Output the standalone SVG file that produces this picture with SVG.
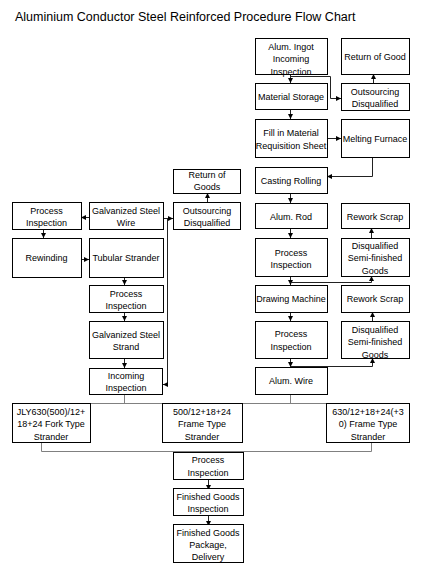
<svg xmlns="http://www.w3.org/2000/svg" width="442" height="571" viewBox="0 0 442 571">
<defs>
<style>
rect{fill:#fff;stroke:#000;stroke-width:1}
text{font-family:"Liberation Sans",Arial,sans-serif;font-size:9px;fill:#000;text-anchor:middle}
.title{font-size:12.5px;text-anchor:start}
.c{fill:none;stroke:#222;stroke-width:1}
.g{fill:none;stroke:#808080;stroke-width:1}
</style>
<marker id="ah" viewBox="0 0 6 6" refX="6" refY="3" markerWidth="5" markerHeight="5" markerUnits="userSpaceOnUse" orient="auto">
<path d="M0,0 L6,3 L0,6 z" fill="#000"/>
</marker>
</defs>
<rect x="0" y="0" width="442" height="571" style="fill:#fff;stroke:none"/>
<text class="title" x="15" y="21">Aluminium Conductor Steel Reinforced Procedure Flow Chart</text>

<g id="connectors">
<path class="c" d="M290.5,74 V83" marker-end="url(#ah)"/>
<path class="c" d="M290.5,76.5 H330.5 V98.5 H341" marker-end="url(#ah)"/>
<path class="c" d="M373.5,83 V74" marker-end="url(#ah)"/>
<path class="c" d="M290.5,109 V119" marker-end="url(#ah)"/>
<path class="c" d="M327,138.5 H341" marker-end="url(#ah)"/>
<path class="c" d="M372.5,157 V176.5 H327" marker-end="url(#ah)"/>
<path class="c" d="M290.5,193 V203" marker-end="url(#ah)"/>
<path class="c" d="M290.5,228 V238" marker-end="url(#ah)"/>
<path class="c" d="M371.5,238 V228" marker-end="url(#ah)"/>
<path class="c" d="M290.5,276 V285" marker-end="url(#ah)"/>
<path class="c" d="M290.5,282.5 H371.5 V276" marker-end="url(#ah)"/>
<path class="c" d="M290.5,312 V321" marker-end="url(#ah)"/>
<path class="c" d="M372.5,321 V312" marker-end="url(#ah)"/>
<path class="c" d="M290.5,358 V367" marker-end="url(#ah)"/>
<path class="c" d="M290.5,366.5 H372.5 V358" marker-end="url(#ah)"/>
<path class="c" d="M89,217.5 H81" marker-end="url(#ah)"/>
<path class="c" d="M43.5,229 V238" marker-end="url(#ah)"/>
<path class="c" d="M81,259.5 H89" marker-end="url(#ah)"/>
<path class="c" d="M124.5,277 V285" marker-end="url(#ah)"/>
<path class="c" d="M124.5,312 V321" marker-end="url(#ah)"/>
<path class="c" d="M124.5,358 V368" marker-end="url(#ah)"/>
<path class="c" d="M163,218.5 H173" marker-end="url(#ah)"/>
<path class="c" d="M167.5,218.5 V384.5 H163" marker-end="url(#ah)"/>
<path class="c" d="M207.5,202 V193" marker-end="url(#ah)"/>
<path class="g" d="M124.5,394 V403.5 M290.5,394 V403.5 M41,403.5 H372"/>
<path class="g" d="M41.5,403 V409" marker-end="url(#ah)"/>
<path class="g" d="M208.5,403 V409" marker-end="url(#ah)"/>
<path class="g" d="M371.5,403 V409" marker-end="url(#ah)"/>
<path class="g" d="M41.5,442 V451.5 H371.5 V442"/>
<path class="g" d="M208.5,451 V458" marker-end="url(#ah)"/>
<path class="c" d="M208.5,479 V490" marker-end="url(#ah)"/>
<path class="c" d="M208.5,515 V526" marker-end="url(#ah)"/>
</g>

<g id="n_ingot"><rect x="255.5" y="38.5" width="72" height="36"/><text x="291" y="49.5">Alum. Ingot</text><text x="291" y="62">Incoming</text><text x="291" y="74.5">Inspection</text></g>
<g id="n_return_good"><rect x="341.5" y="38.5" width="68" height="36"/><text x="375" y="60">Return of Good</text></g>
<g id="n_storage"><rect x="255.5" y="83.5" width="72" height="26"/><text x="291" y="100">Material Storage</text></g>
<g id="n_outsrc1"><rect x="341.5" y="83.5" width="68" height="27"/><text x="375" y="94.5">Outsourcing</text><text x="375" y="106.5">Disqualified</text></g>
<g id="n_fill"><rect x="255.5" y="119.5" width="72" height="38"/><text x="291" y="136">Fill in Material</text><text x="291" y="148.5">Requisition Sheet</text></g>
<g id="n_melt"><rect x="341.5" y="119.5" width="68" height="38"/><text x="375" y="142">Melting Furnace</text></g>
<g id="n_cast"><rect x="255.5" y="167.5" width="72" height="26"/><text x="291" y="183.5">Casting Rolling</text></g>
<g id="n_rod"><rect x="255.5" y="203.5" width="72" height="25"/><text x="291" y="219.5">Alum. Rod</text></g>
<g id="n_scrap1"><rect x="341.5" y="203.5" width="68" height="25"/><text x="375" y="219.5">Rework Scrap</text></g>
<g id="n_pi1"><rect x="255.5" y="238.5" width="72" height="38"/><text x="291" y="255.5">Process</text><text x="291" y="267.5">Inspection</text></g>
<g id="n_disq1"><rect x="341.5" y="238.5" width="68" height="38"/><text x="375" y="248.5">Disqualified</text><text x="375" y="261">Semi-finished</text><text x="375" y="274">Goods</text></g>
<g id="n_draw"><rect x="255.5" y="285.5" width="72" height="27"/><text x="291" y="302">Drawing Machine</text></g>
<g id="n_scrap2"><rect x="341.5" y="285.5" width="68" height="27"/><text x="375" y="302">Rework Scrap</text></g>
<g id="n_pi2"><rect x="255.5" y="321.5" width="72" height="37"/><text x="291" y="336.5">Process</text><text x="291" y="350">Inspection</text></g>
<g id="n_disq2"><rect x="341.5" y="321.5" width="68" height="37"/><text x="375" y="332.5">Disqualified</text><text x="375" y="344.5">Semi-finished</text><text x="375" y="357.5">Goods</text></g>
<g id="n_wire"><rect x="255.5" y="367.5" width="72" height="27"/><text x="291" y="384">Alum. Wire</text></g>

<g id="n_return_goods"><rect x="173.5" y="169.5" width="67" height="24"/><text x="207" y="177.5">Return of</text><text x="207" y="190">Goods</text></g>
<g id="n_outsrc2"><rect x="173.5" y="202.5" width="67" height="27"/><text x="207" y="213.5">Outsourcing</text><text x="207" y="225.5">Disqualified</text></g>
<g id="n_galv_wire"><rect x="89.5" y="202.5" width="74" height="27"/><text x="126" y="213.5">Galvanized Steel</text><text x="126" y="225.5">Wire</text></g>
<g id="n_pi_left"><rect x="12.5" y="202.5" width="69" height="27"/><text x="46.5" y="213.5">Process</text><text x="46.5" y="225.5">Inspection</text></g>
<g id="n_rewind"><rect x="12.5" y="238.5" width="69" height="39"/><text x="46.5" y="261">Rewinding</text></g>
<g id="n_tubular"><rect x="89.5" y="238.5" width="74" height="39"/><text x="126" y="261">Tubular Strander</text></g>
<g id="n_pi_mid"><rect x="89.5" y="285.5" width="74" height="27"/><text x="126" y="296.5">Process</text><text x="126" y="309">Inspection</text></g>
<g id="n_galv_strand"><rect x="89.5" y="321.5" width="74" height="37"/><text x="126" y="337.5">Galvanized Steel</text><text x="126" y="350">Strand</text></g>
<g id="n_incoming"><rect x="89.5" y="368.5" width="73" height="26"/><text x="126" y="378.5">Incoming</text><text x="126" y="391">Inspection</text></g>

<g id="n_jly"><rect x="12.5" y="403.5" width="78" height="39"/><text x="51" y="414.5">JLY630(500)/12+</text><text x="51" y="427">18+24 Fork Type</text><text x="51" y="439.5">Strander</text></g>
<g id="n_500"><rect x="162.5" y="403.5" width="80" height="39"/><text x="202" y="414.5">500/12+18+24</text><text x="202" y="427">Frame Type</text><text x="202" y="439.5">Strander</text></g>
<g id="n_630"><rect x="326.5" y="403.5" width="83" height="39"/><text x="368" y="414.5">630/12+18+24(+3</text><text x="368" y="427">0) Frame Type</text><text x="368" y="439.5">Strander</text></g>

<g id="n_pi_final"><rect x="173.5" y="452.5" width="70" height="27"/><text x="208" y="462.5">Process</text><text x="208" y="476">Inspection</text></g>
<g id="n_fgi"><rect x="173.5" y="488.5" width="70" height="27"/><text x="208" y="499.5">Finished Goods</text><text x="208" y="511.5">Inspection</text></g>
<g id="n_pack"><rect x="173.5" y="524.5" width="70" height="38"/><text x="208" y="535.5">Finished Goods</text><text x="208" y="547.5">Package,</text><text x="208" y="560">Delivery</text></g>
</svg>
